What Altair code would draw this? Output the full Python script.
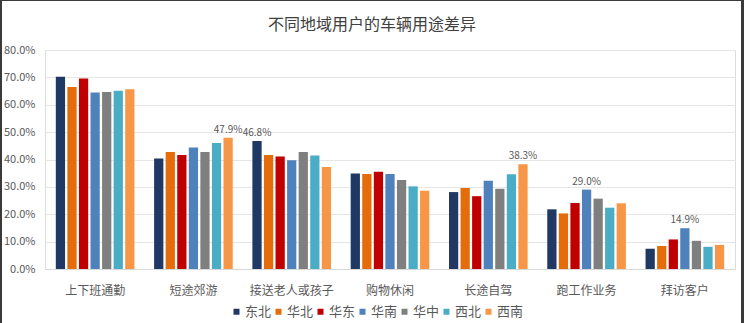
import altair as alt
import pandas as pd

categories = ["上下班通勤", "短途郊游", "接送老人或孩子", "购物休闲", "长途自驾", "跑工作业务", "拜访客户"]
regions = ["东北", "华北", "华东", "华南", "华中", "西北", "西南"]
colors = ["#203864", "#E46C0A", "#C00000", "#4F81BD", "#7F7F7F", "#4BACC6", "#F79646"]
title_text = ["不同地域用户的车辆用途差异"]

# values per region, in order of categories (percent)
v_dongbei = [70.2, 40.4, 46.8, 34.9, 28.1, 21.8, 7.4]
v_huabei  = [66.5, 42.7, 41.6, 34.7, 29.6, 20.3, 8.4]
v_huadong = [69.6, 41.6, 41.1, 35.5, 26.6, 24.1, 10.8]
v_huanan  = [64.5, 44.4, 39.7, 34.7, 32.2, 29.0, 14.9]
v_huazhong= [64.7, 42.7, 42.7, 32.5, 29.3, 25.7, 10.3]
v_xibei   = [65.1, 46.0, 41.5, 30.2, 34.6, 22.4, 8.1]
v_xinan   = [65.7, 47.9, 37.3, 28.6, 38.3, 24.0, 8.8]

# labelled bars: (category, region)
labelled = [("短途郊游", "西南"), ("接送老人或孩子", "东北"), ("长途自驾", "西南"),
            ("跑工作业务", "华南"), ("拜访客户", "华南")]

series = [v_dongbei, v_huabei, v_huadong, v_huanan, v_huazhong, v_xibei, v_xinan]
rows = []
for r, vals in zip(regions, series):
    for c, v in zip(categories, vals):
        rows.append({"cat": c, "region": r, "value": v / 100.0,
                     "label": f"{v:.1f}%" if (c, r) in labelled else ""})
df = pd.DataFrame(rows)

FONT = "Noto Sans CJK SC"

x = alt.X("cat:N", sort=categories, title=None,
          scale=alt.Scale(paddingInner=0.2, paddingOuter=0.11),
          axis=alt.Axis(labelAngle=0, labelFontSize=12, labelColor="#595959",
                        labelFont=FONT, ticks=False, domain=True, domainColor="#D9D9D9",
                        labelPadding=16))
xoff = alt.XOffset("region:N", sort=regions, scale=alt.Scale(paddingInner=0.2))
y = alt.Y("value:Q", title=None,
          scale=alt.Scale(domain=[0, 0.8], nice=False),
          axis=alt.Axis(format=".1%", values=[i / 10 for i in range(9)],
                        labelFontSize=11, labelColor="#595959", labelFont=FONT,
                        ticks=False, domain=False, gridColor="#E6E6E6", labelPadding=10))

bars = alt.Chart(df).mark_bar().encode(
    x=x, xOffset=xoff, y=y,
    color=alt.Color("region:N", sort=regions,
                    scale=alt.Scale(domain=regions, range=colors),
                    legend=alt.Legend(title=None, orient="none", direction="horizontal",
                                      legendX=185, legendY=255, symbolType="square",
                                      symbolSize=36, labelFontSize=13, labelFont=FONT,
                                      labelColor="#595959", columnPadding=0,
                                      labelOffset=2, symbolStrokeWidth=0)),
)

texts = alt.Chart(df).mark_text(dy=-8, fontSize=10, color="#595959", font=FONT).encode(
    x=x, xOffset=xoff, y=y, text="label:N"
)

title_df = pd.DataFrame({"t": title_text})
title = alt.Chart(title_df).mark_text(fontSize=16, font=FONT, color="#404040",
                                      baseline="middle", align="center").encode(
    x=alt.value(327), y=alt.value(-25), text="t:N")

# image frame (dark edges on left, right and top)
frame_df = pd.DataFrame({"k": [0]})
frame_left = alt.Chart(frame_df).mark_rect(color="#3A3A3A", clip=False).encode(
    x=alt.value(-45), x2=alt.value(-43), y=alt.value(-50), y2=alt.value(273))
frame_right = alt.Chart(frame_df).mark_rect(color="#3A3A3A", clip=False).encode(
    x=alt.value(696), x2=alt.value(699), y=alt.value(-50), y2=alt.value(273))
frame_top = alt.Chart(frame_df).mark_rect(color="#3A3A3A", clip=False).encode(
    x=alt.value(-45), x2=alt.value(699), y=alt.value(-50), y2=alt.value(-49))

chart = alt.layer(bars, texts, title, frame_left, frame_right, frame_top).properties(
    width=690, height=219,
    autosize=alt.AutoSizeParams(type="none"),
    padding={"left": 45, "top": 50, "right": 9, "bottom": 54},
).configure_view(stroke=None).configure(background="white")

chart.save("out.html", embed_options={"renderer": "svg", "actions": False})
